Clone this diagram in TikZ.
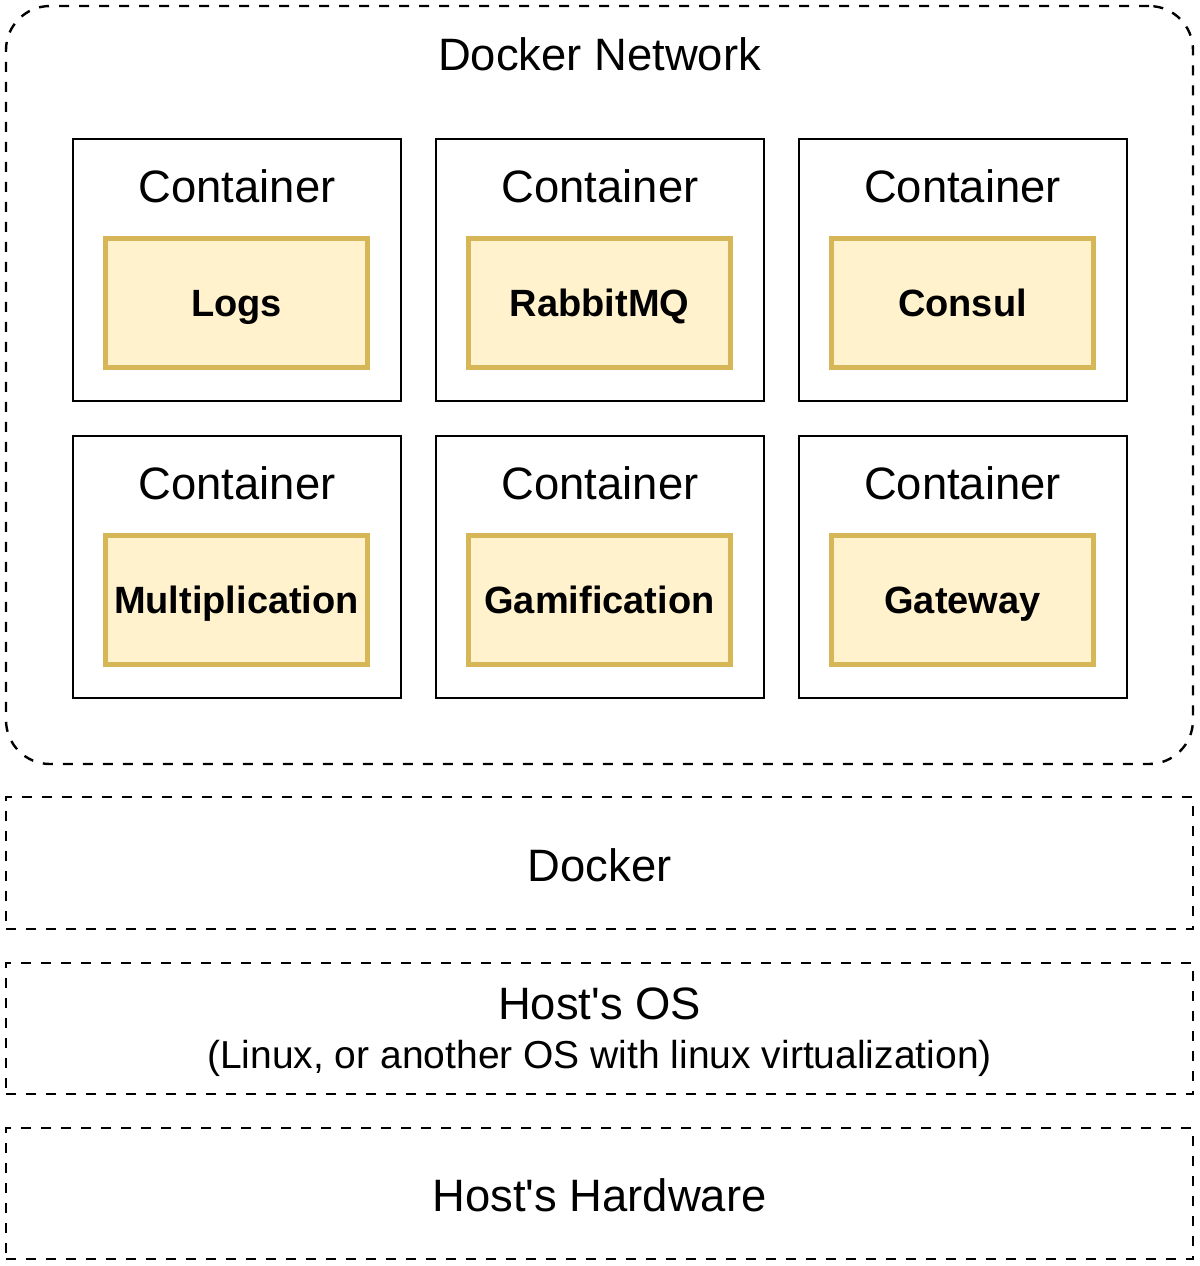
\documentclass[tikz,border=0pt]{standalone}
\usepackage{fontspec}
\setmainfont{Liberation Sans}
\usepackage{xcolor}
\definecolor{svcfill}{HTML}{FFF2CC}
\definecolor{svcdraw}{HTML}{D6B656}

\tikzset{
    bigtext/.style={font=\fontsize{22.7}{26}\selectfont},
    smalltext/.style={font=\fontsize{19.5}{23}\selectfont},
    container/.style={rectangle, draw, line width=1pt, minimum width=164pt, minimum height=131pt},
    service/.style={rectangle, draw=svcdraw, fill=svcfill, line width=2.5pt, minimum width=131pt, minimum height=64.5pt, text height=13.6pt, text depth=0pt, font=\fontsize{19}{22}\selectfont\bfseries},
    layer/.style={rectangle, draw, line width=1.2pt, dash pattern=on 5pt off 5pt, minimum width=593.5pt, minimum height=65.5pt}
}

\begin{document}
\begin{tikzpicture}[x=0.5pt, y=-0.5pt]
    \useasboundingbox (0,0) rectangle (1200,1266);

    % network
    \node at (599.5,385) [rectangle, draw, line width=1.2pt, dash pattern=on 5pt off 5pt, rounded corners=22pt, minimum width=593.5pt, minimum height=379pt] (Network) {};
    \node at (599.5,54) [bigtext] (NetworkTitle) {Docker Network};

    % containers
    \node at (237,270) [container] (ContLogs) {};
    \node at (600,270) [container] (ContRabbit) {};
    \node at (962.5,270) [container] (ContConsul) {};
    \node at (237,566.5) [container] (ContMult) {};
    \node at (600,566.5) [container] (ContGame) {};
    \node at (962.5,566.5) [container] (ContGateway) {};

    \node at (237,186) [bigtext] (LabelLogs) {Container};
    \node at (600,186) [bigtext] (LabelRabbit) {Container};
    \node at (962.5,186) [bigtext] (LabelConsul) {Container};
    \node at (237,483) [bigtext] (LabelMult) {Container};
    \node at (600,483) [bigtext] (LabelGame) {Container};
    \node at (962.5,483) [bigtext] (LabelGateway) {Container};

    \node at (236.5,303) [service] (Logs) {Logs};
    \node at (599.5,303) [service] (RabbitMQ) {RabbitMQ};
    \node at (962.5,303) [service] (Consul) {Consul};
    \node at (236.5,600) [service] (Multiplication) {Multiplication};
    \node at (599.5,600) [service] (Gamification) {Gamification};
    \node at (962.5,600) [service] (Gateway) {Gateway};

    % layers
    \node at (599.5,863) [layer, minimum height=66pt] (Docker) {};
    \node at (599.5,865) [bigtext] (DockerLabel) {Docker};
    \node at (599.5,1028.5) [layer] (HostOS) {};
    \node at (599.5,1004) [bigtext] (HostOSLabel) {Host\textquotesingle s OS};
    \node at (599.5,1058) [smalltext] (HostOSNote) {(Linux, or another OS with linux virtualization)};
    \node at (599.5,1193.5) [layer] (Hardware) {};
    \node at (599.5,1195) [bigtext] (HardwareLabel) {Host\textquotesingle s Hardware};
\end{tikzpicture}
\end{document}
